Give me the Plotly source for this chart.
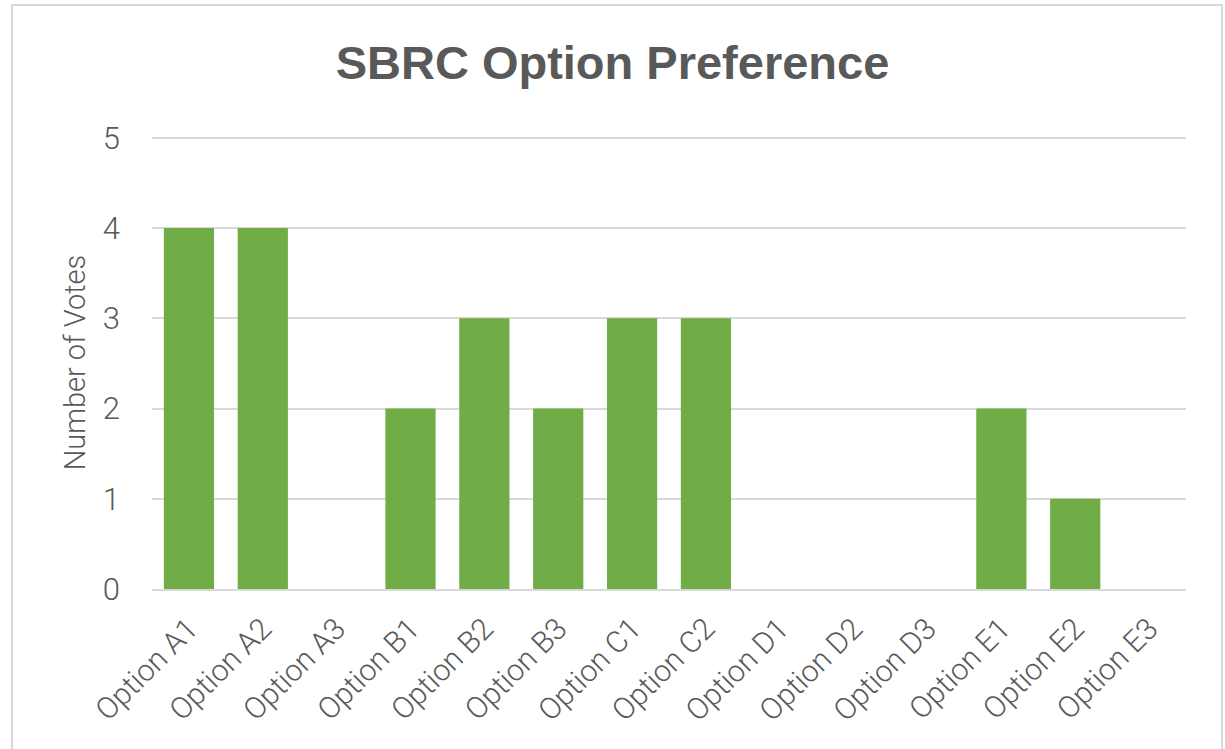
import plotly.graph_objects as go

categories = ["Option A1", "Option A2", "Option A3", "Option B1", "Option B2", "Option B3",
              "Option C1", "Option C2", "Option D1", "Option D2", "Option D3",
              "Option E1", "Option E2", "Option E3"]
votes = [4, 4, 0, 2, 3, 2, 3, 3, 0, 0, 0, 2, 1, 0]
y_ticks = [0, 1, 2, 3, 4, 5]

W, H = 1225, 749
L, R, T, B = 152, 39, 136, 160
pw = W - L - R
ph = H - T - B

fig = go.Figure(go.Bar(x=categories, y=votes, marker=dict(color="#70AD47", line=dict(width=0))))

def light(size):
    return dict(family="Roboto, Liberation Sans, sans-serif", size=size, color="#595959", weight=300)

fig.update_layout(
    width=W, height=H,
    margin=dict(l=L, r=R, t=T, b=B, autoexpand=False),
    paper_bgcolor="white", plot_bgcolor="white",
    bargap=0.32,
    showlegend=False,
    title=dict(text="<b>SBRC Option Preference</b>", x=0.5, xanchor="center",
               y=1 - 63 / H, yanchor="middle", yref="container",
               font=dict(family="Liberation Sans, Arial, sans-serif", size=47, color="#595959")),
    xaxis=dict(tickangle=-45, tickfont=light(30), automargin=False, ticklabelstandoff=8,
               showline=True, linecolor="#D9D9D9", linewidth=2, ticks="", showgrid=False),
    yaxis=dict(range=[0, 5.02], tickvals=y_ticks, tickfont=light(31), automargin=False,
               showgrid=True, gridcolor="#D9D9D9", gridwidth=1.5, zeroline=False,
               ticks="", ticklabelstandoff=31,
               title=dict(text="Number of Votes", font=light(29), standoff=8)),
    shapes=[dict(type="rect", xref="paper", yref="paper",
                 x0=(12 - L) / pw, x1=(1222 - L) / pw,
                 y0=(T + ph - 760) / ph, y1=(T + ph - 5) / ph,
                 line=dict(color="#D9D9D9", width=2), fillcolor="rgba(0,0,0,0)", layer="below")],
)

fig.write_html("out.html", config={"displayModeBar": False},
               post_script="document.body.style.margin='0';")
